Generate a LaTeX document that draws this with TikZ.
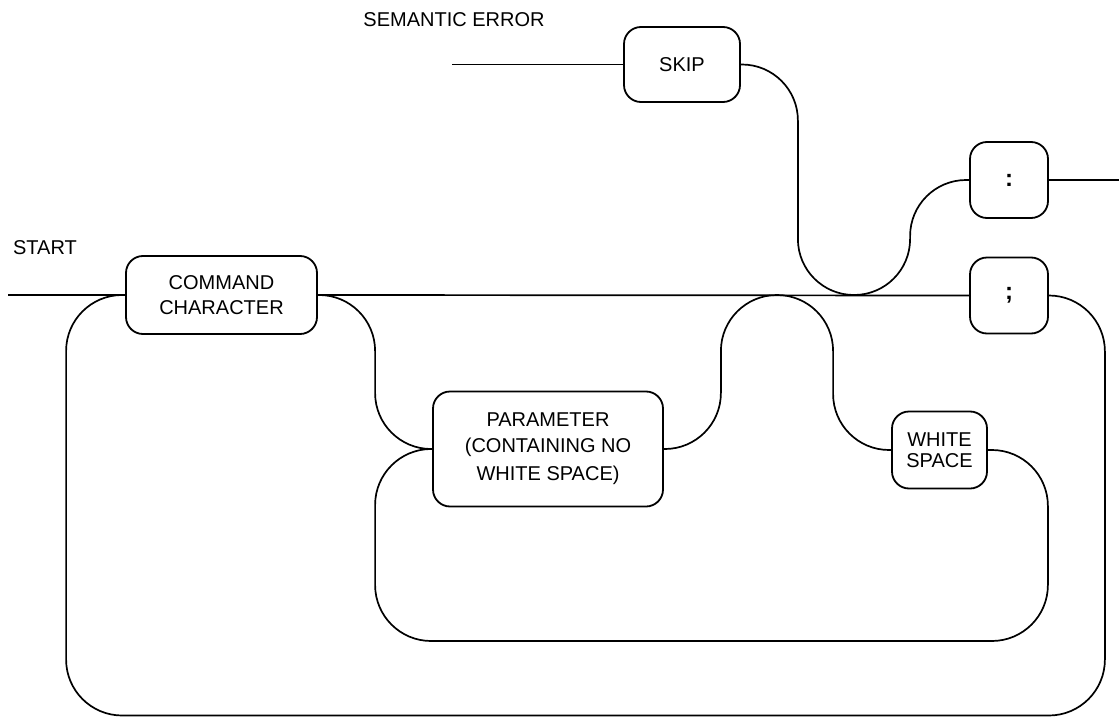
\documentclass[tikz,border=0pt]{standalone}
\usepackage{fontspec}
\setmainfont{Liberation Sans}
\begin{document}
\begin{tikzpicture}[x=1pt,y=-1pt,
  box/.style={draw, line width=1.8pt, rounded corners=17pt, inner sep=0pt,
    align=center, font=\fontsize{20}{25}\selectfont},
  punct/.style={box, minimum width=78pt, minimum height=76pt,
    font=\fontsize{24}{26}\selectfont\bfseries},
  wire/.style={line width=1.7pt, rounded corners=56pt},
  lbl/.style={font=\fontsize{20}{24}\selectfont, inner sep=0pt}]
\useasboundingbox (0,0) rectangle (1119,717);

% labels of the two entry points
\node[lbl] (startlbl) at (45,248) {START};
\node[lbl] (errlbl) at (454,20) {SEMANTIC ERROR};

% boxes
\node[box, minimum width=191pt, minimum height=78pt] (cmd) at (221.5,295)
  {COMMAND\\CHARACTER};
\node[box, minimum width=230pt, minimum height=115pt,
  font=\fontsize{20}{26}\selectfont] (param) at (548,449)
  {PARAMETER\\(CONTAINING NO\\[2pt]WHITE SPACE)};
\node[box, minimum width=95pt, minimum height=77pt,
  font=\fontsize{20}{21}\selectfont] (ws) at (939.5,450)
  {WHITE\\SPACE};
\node[box, minimum width=116pt, minimum height=75pt] (skip) at (682,64.5) {SKIP};
\node[punct] (colon) at (1009,180) {:};
\node[punct] (semi) at (1009,295.5) {;};

% free ends
\coordinate (start) at (8,295);
\coordinate (err) at (452,64.5);
\coordinate (exit) at (1119,180);

% main track
\draw[wire] (start) -- (cmd.west);
\draw[wire] (cmd.east) -- (semi.west);
\draw[wire] (err) -- (skip.west);
\draw[wire] (colon.east) -- (exit);

% repeat loop from ';' back to the command character
\draw[wire] (semi.east) -| ([xshift=56pt,yshift=-420pt]semi.east)
  -| ([xshift=-59pt]cmd.west) -- (cmd.west);

% branch down to the parameter
\draw[wire] (cmd.east) -| ([xshift=-57pt]param.west) -- (param.west);

% parameter to white space, hopping over the main track
\draw[wire] (param.east) -| ([xshift=57pt]param.east |- cmd.east)
  -| ([xshift=-58pt]ws.west) -- (ws.west);

% white space back to the parameter
\draw[wire] (ws.east) -| ([xshift=60pt,yshift=-191pt]ws.east)
  -| ([xshift=-57pt]param.west) -- (param.west);

% skip path down to the track and up to ':'
\draw[wire] (skip.east) -| ([xshift=57pt]skip.east |- cmd.east)
  -| ([xshift=-59pt]colon.west) -- (colon.west);
\end{tikzpicture}
\end{document}
